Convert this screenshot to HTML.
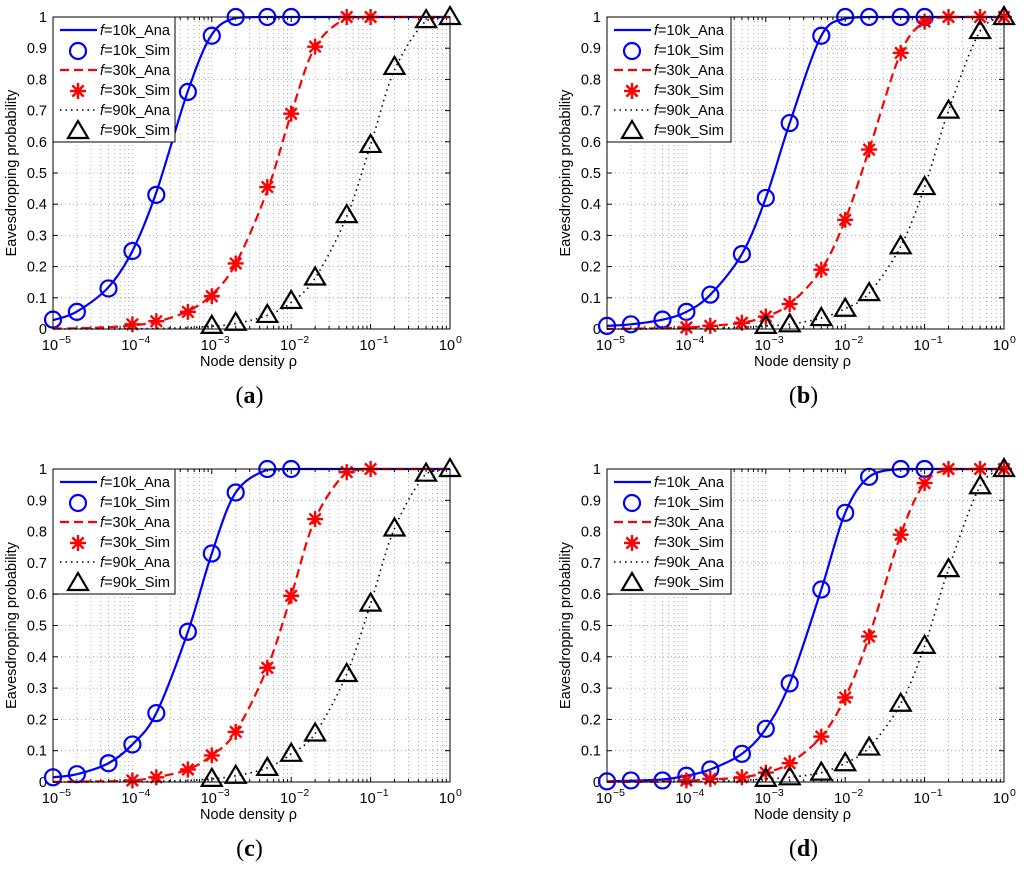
<!DOCTYPE html>
<html><head><meta charset="utf-8"><style>
html,body{margin:0;padding:0;background:#fff;}
svg{display:block;font-family:"Liberation Sans",sans-serif;}
</style></head><body>
<svg id="c" width="1024" height="876" viewBox="0 0 1024 876"></svg>
<script>
const xVals=[1e-5,2e-5,5e-5,1e-4,2e-4,5e-4,1e-3,2e-3,5e-3,1e-2,2e-2,5e-2,0.1,0.2,0.5,1];
const yTicks=[0,0.1,0.2,0.3,0.4,0.5,0.6,0.7,0.8,0.9,1];
const yTickLabels=["0","0.1","0.2","0.3","0.4","0.5","0.6","0.7","0.8","0.9","1"];
const xTickExps=[-5,-4,-3,-2,-1,0];
const seriesNames=["f=10k","f=30k","f=90k"];
// (a)
const aBlueAna=[.028,.056,.134,.25,.438,.763,.944,.997,1,1,1,1,1,1,1,1];
const aBlueSim=[.03,.055,.13,.25,.43,.76,.94,1,1,1,null,null,null,null,null,null];
const aRedAna=[.0012,.0023,.0058,.0116,.023,.057,.11,.209,.443,.69,.904,.997,1,1,1,1];
const aRedSim=[null,null,null,.015,.025,.055,.105,.21,.455,.69,.905,1,1,null,null,null];
const aBlackAna=[0,0,0,.0009,.0018,.0044,.0089,.0176,.0435,.085,.163,.36,.59,.83,.988,1];
const aBlackSim=[null,null,null,null,null,null,.01,.02,.045,.09,.165,.365,.59,.84,.99,1];
// (b)
const bBlueAna=[.01,.015,.03,.055,.11,.24,.42,.66,.94,.995,1,1,1,1,1,1];
const bBlueSim=[.01,.015,.03,.055,.11,.24,.42,.66,.94,1,1,1,1,null,null,null];
const bRedAna=[.0005,.001,.0025,.005,.01,.02,.04,.08,.19,.35,.575,.885,.985,1,1,1];
const bRedSim=[null,null,null,.005,.01,.02,.04,.08,.19,.35,.575,.885,.985,1,1,1];
const bBlackAna=[0,0,.0005,.001,.002,.005,.01,.015,.035,.065,.115,.265,.455,.70,.955,1];
const bBlackSim=[null,null,null,null,null,null,.01,.015,.035,.065,.115,.265,.455,.70,.955,1];
// (c)
const cBlueAna=[.015,.025,.06,.12,.22,.48,.73,.925,.998,1,1,1,1,1,1,1];
const cBlueSim=[.015,.025,.06,.12,.22,.48,.73,.925,1,1,null,null,null,null,null,null];
const cRedAna=[.0005,.001,.0025,.005,.015,.04,.085,.16,.365,.595,.84,.99,1,1,1,1];
const cRedSim=[null,null,null,.005,.015,.04,.085,.16,.365,.595,.84,.99,1,null,null,null];
const cBlackAna=[0,0,.0005,.001,.002,.005,.01,.02,.045,.09,.155,.345,.57,.81,.985,1];
const cBlackSim=[null,null,null,null,null,null,.01,.02,.045,.09,.155,.345,.57,.81,.985,1];
// (d)
const dBlueAna=[.002,.004,.008,.02,.04,.09,.17,.315,.615,.86,.975,1,1,1,1,1];
const dBlueSim=[.002,.005,.005,.02,.04,.09,.17,.315,.615,.86,.975,1,1,null,null,null];
const dRedAna=[.0003,.0007,.0015,.004,.008,.015,.03,.06,.145,.27,.465,.79,.955,.998,1,1];
const dRedSim=[null,null,null,.005,.01,.015,.03,.06,.145,.27,.465,.79,.955,1,1,1];
const dBlackAna=[0,0,.0005,.001,.002,.005,.01,.015,.03,.06,.11,.25,.435,.68,.945,1];
const dBlackSim=[null,null,null,null,null,null,.01,.015,.03,.06,.11,.25,.435,.68,.945,1];

const NS="http://www.w3.org/2000/svg";
const svg=document.getElementById('c');
function mk(tag,attrs,parent){const e=document.createElementNS(NS,tag);for(const k in attrs)e.setAttribute(k,attrs[k]);(parent||svg).appendChild(e);return e;}

const panels=[
 {id:'a',L:53,R:450,T:17,B:329,data:[aBlueAna,aBlueSim,aRedAna,aRedSim,aBlackAna,aBlackSim]},
 {id:'b',L:607,R:1004,T:17,B:329,data:[bBlueAna,bBlueSim,bRedAna,bRedSim,bBlackAna,bBlackSim]},
 {id:'c',L:53,R:450,T:469,B:782,data:[cBlueAna,cBlueSim,cRedAna,cRedSim,cBlackAna,cBlackSim]},
 {id:'d',L:607,R:1004,T:469,B:782,data:[dBlueAna,dBlueSim,dRedAna,dRedSim,dBlackAna,dBlackSim]}
];
const colors=['#0000ff','#ff0000','#000000'];
const dashes=['none','9,5','1.5,4'];

function circle(g,x,y,col){const e=mk('circle',{cx:x,cy:y,r:8,fill:'none',stroke:col,'stroke-width':2.2},g);return e;}
function star(g,x,y,col){const e=mk('g',{},g);const r=8;for(let i=0;i<4;i++){const a=i*Math.PI/4;mk('line',{x1:x-r*Math.cos(a),y1:y-r*Math.sin(a),x2:x+r*Math.cos(a),y2:y+r*Math.sin(a),stroke:col,'stroke-width':2.4},e);}return e;}
function tri(g,x,y,col){return mk('path',{d:`M${x},${y-10}L${x+10},${y+7}L${x-10},${y+7}Z`,fill:'none',stroke:col,'stroke-width':2.2,'stroke-linejoin':'miter'},g);}
const markers=[circle,star,tri];

panels.forEach(p=>{
 const g=mk('g',{});
 
 
 const X=v=>p.L+(Math.log10(v)+5)/5*(p.R-p.L);
 const Y=v=>p.B-v*(p.B-p.T);
 mk('rect',{x:p.L,y:p.T,width:p.R-p.L,height:p.B-p.T,fill:'#fff'},g);
 const grid=mk('g',{stroke:'#999','stroke-width':0.8,'stroke-dasharray':'1,3'},g);
 
 
 for(let e=-5;e<0;e++)for(let m=1;m<10;m++){const x=X(m*Math.pow(10,e));if(m>1||e>-5)mk('line',{x1:x,y1:p.T,x2:x,y2:p.B},grid);}
 yTicks.forEach(t=>{if(t>0&&t<1)mk('line',{x1:p.L,y1:Y(t),x2:p.R,y2:Y(t)},grid);});
 const tk=mk('g',{stroke:'#000','stroke-width':1},g);
 for(let e=-5;e<0;e++)for(let m=1;m<10;m++){const x=X(m*Math.pow(10,e));const len=m==1?5:3;mk('line',{x1:x,y1:p.B,x2:x,y2:p.B-len},tk);mk('line',{x1:x,y1:p.T,x2:x,y2:p.T+len},tk);}
 yTicks.forEach(t=>{mk('line',{x1:p.L,y1:Y(t),x2:p.L+5,y2:Y(t)},tk);mk('line',{x1:p.R,y1:Y(t),x2:p.R-5,y2:Y(t)},tk);});
 yTicks.forEach((t,i)=>{const tx=mk('text',{x:p.L-6,y:Y(t)+5,'text-anchor':'end','font-size':14.5,fill:'#000'},g);tx.textContent=yTickLabels[i];
  
  });
 xTickExps.forEach(e=>{const tx=mk('text',{x:X(Math.pow(10,e))-3,y:p.B+21,'text-anchor':'middle','font-size':14.5,fill:'#000'},g);tx.textContent='10';
  
  
  const s=mk('text',{x:X(Math.pow(10,e))+6,y:p.B+14,'text-anchor':'start','font-size':10.5,fill:'#000'},g);s.textContent=(e<0?'\u2212'+(-e):'0');});
 for(let s=0;s<3;s++){
  const ana=p.data[s*2],sim=p.data[s*2+1];
  const pts=xVals.map((v,i)=>[X(v),Y(ana[i])]);
  let d='M'+pts[0][0]+','+pts[0][1];
  for(let i=0;i<pts.length-1;i++){const p0=pts[Math.max(0,i-1)],p1=pts[i],p2=pts[i+1],p3=pts[Math.min(pts.length-1,i+2)];
   let c1y=p1[1]+(p2[1]-p0[1])/6,c2y=p2[1]-(p3[1]-p1[1])/6;
   const lo=Math.min(p1[1],p2[1]),hi=Math.max(p1[1],p2[1]);c1y=Math.min(hi,Math.max(lo,c1y));c2y=Math.min(hi,Math.max(lo,c2y));
   d+=`C${p1[0]+(p2[0]-p0[0])/6},${c1y} ${p2[0]-(p3[0]-p1[0])/6},${c2y} ${p2[0]},${p2[1]}`;}
  const ln=mk('path',{d:d,fill:'none',stroke:colors[s],'stroke-width':s==2?1.6:2.2,'stroke-dasharray':dashes[s]},g);
  
  
  sim.forEach((v,i)=>{if(v==null)return;const m=markers[s](g,X(xVals[i]),Y(v),colors[s]);
   
   });
 }
 mk('rect',{x:p.L,y:p.T,width:p.R-p.L,height:p.B-p.T,fill:'none',stroke:'#000','stroke-width':1},g);
 const lg=mk('g',{},g);
 
 
 const lw=p.id=='a'||p.id=='c'?122:124;
 mk('rect',{x:p.L,y:p.T,width:lw,height:125,fill:'#fff',stroke:'#000','stroke-width':1},lg);
 for(let k=0;k<6;k++){const s=Math.floor(k/2),yy=p.T+13+k*20;
  if(k%2==0)mk('line',{x1:p.L+7,y1:yy,x2:p.L+44,y2:yy,stroke:colors[s],'stroke-width':s==2?1.6:2.2,'stroke-dasharray':dashes[s]},lg);
  else markers[s](lg,p.L+25,yy+1,colors[s]);
  const t=mk('text',{x:p.L+47,y:yy+5,'font-size':14.5,fill:'#000',textLength:70,lengthAdjust:'spacingAndGlyphs'},lg);
  
  
  const it=mk('tspan',{'font-style':'italic'},t);it.textContent='f';
  const rest=mk('tspan',{},t);rest.textContent=seriesNames[s].slice(1)+(k%2==0?'_Ana':'_Sim');}
 const xt=mk('text',{x:(p.L+p.R)/2-3,y:p.B+37,'text-anchor':'middle','font-size':14.5,fill:'#000'},g);xt.textContent='Node density \u03c1';
 
 
 const yx=p.L-37,yy=(p.T+p.B)/2;
 const yt=mk('text',{x:yx,y:yy,'text-anchor':'middle','font-size':14.5,fill:'#000',transform:`rotate(-90 ${yx} ${yy})`},g);yt.textContent='Eavesdropping probability';
 
 
 const pl=mk('text',{x:(p.L+p.R)/2-2,y:p.B+74,'text-anchor':'middle','font-size':24,'font-family':'Liberation Serif, serif',fill:'#000'},g);
 
 
 pl.appendChild(document.createTextNode('('));const b=mk('tspan',{'font-weight':'bold'},pl);b.textContent=p.id;pl.appendChild(document.createTextNode(')'));
});
</script>
</body></html>
